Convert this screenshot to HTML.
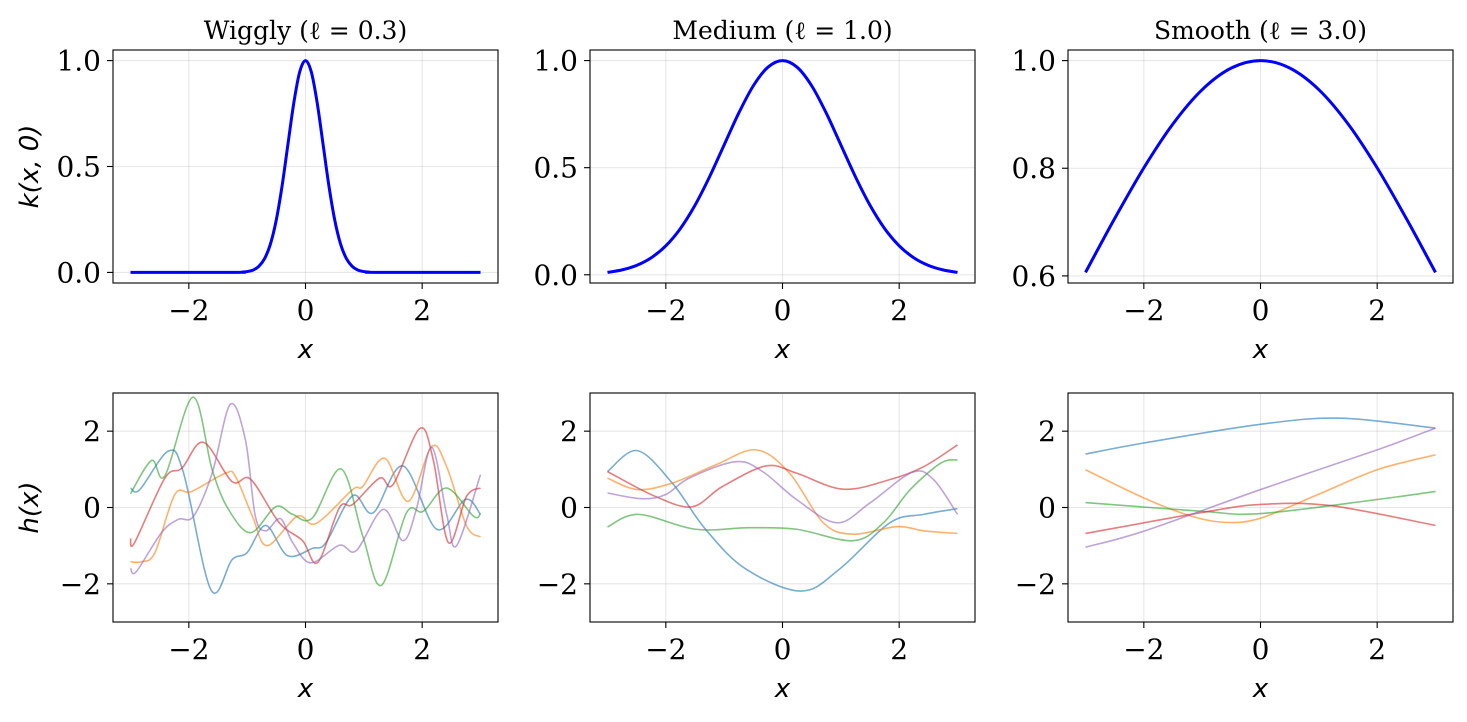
<!DOCTYPE html>
<html><head><meta charset="utf-8"><style>
body{margin:0;background:#fff}
svg text{font-family:"DejaVu Serif","Liberation Serif",serif;fill:#000}
.lab{font-family:"DejaVu Sans","Liberation Sans",sans-serif;font-style:italic}
</style></head><body>
<svg id="fig" width="1467" height="717" xmlns="http://www.w3.org/2000/svg"></svg>
<script>
// ---- data ----
const titles=["Wiggly (ℓ = 0.3)","Medium (ℓ = 1.0)","Smooth (ℓ = 3.0)"];
const kX1=[-3,-1.2,-1.1,-1,-0.9,-0.8,-0.7,-0.6,-0.5,-0.4,-0.3,-0.2,-0.1,0,0.1,0.2,0.3,0.4,0.5,0.6,0.7,0.8,0.9,1,1.1,1.2,3];
const kY1=[0,0.0003,0.0012,0.004,0.011,0.029,0.066,0.135,0.249,0.411,0.607,0.801,0.946,1,0.946,0.801,0.607,0.411,0.249,0.135,0.066,0.029,0.011,0.004,0.0012,0.0003,0];
const kX2=[-3,-2.75,-2.5,-2.25,-2,-1.75,-1.5,-1.25,-1,-0.75,-0.5,-0.25,0,0.25,0.5,0.75,1,1.25,1.5,1.75,2,2.25,2.5,2.75,3];
const kY2=[0.0111,0.0228,0.0439,0.0796,0.1353,0.2163,0.3247,0.4578,0.6065,0.7548,0.8825,0.9692,1,0.9692,0.8825,0.7548,0.6065,0.4578,0.3247,0.2163,0.1353,0.0796,0.0439,0.0228,0.0111];
const kX3=[-3,-2.5,-2,-1.5,-1,-0.5,0,0.5,1,1.5,2,2.5,3];
const kY3=[0.6065,0.7066,0.8007,0.8825,0.946,0.9862,1,0.9862,0.946,0.8825,0.8007,0.7066,0.6065];
const colors=["#1f77b4","#ff7f0e","#2ca02c","#d62728","#9467bd"];
const seriesNames=["blue","orange","green","red","purple"];
const w1X=[-3,-2.84,-2.35,-2.09,-1.62,-1.26,-1.0,-0.68,-0.31,0.12,0.35,0.81,1.16,1.67,2.25,2.74,3];
const w1Y=[0.51,0.47,1.48,0.9,-2.16,-1.37,-1.18,-0.47,-1.26,-1.07,-0.92,0.31,-0.14,1.09,-0.57,0.21,-0.18];
const w2X=[-3,-2.81,-2.58,-2.24,-1.95,-1.37,-1.2,-0.91,-0.66,-0.14,0.18,0.81,0.98,1.36,1.76,2.16,2.42,2.76,3];
const w2Y=[-1.42,-1.42,-1.18,0.34,0.42,0.9,0.81,-0.23,-1.0,-0.23,-0.42,0.47,0.55,1.29,0.16,1.59,1.07,-0.48,-0.77];
const w3X=[-3,-2.64,-2.41,-1.93,-1.6,-1.32,-0.94,-0.51,-0.22,0.12,0.61,0.98,1.3,1.73,2.02,2.42,2.88,3];
const w3Y=[0.36,1.23,0.83,2.89,0.99,-0.05,-0.66,0.02,-0.18,-0.27,1.01,-0.74,-2.04,-0.14,-0.1,0.51,-0.23,-0.16];
const w4X=[-3,-2.93,-2.41,-2.12,-1.75,-1.26,-0.94,-0.45,-0.05,0.21,0.58,0.81,1.27,1.5,1.96,2.19,2.45,2.76,3];
const w4Y=[-0.81,-0.92,0.77,1.03,1.71,0.68,0.74,-0.4,-0.87,-1.44,-0.01,0.08,0.77,0.6,2.07,1.25,-0.92,0.29,0.51];
const w5X=[-3,-2.9,-2.47,-2.18,-1.92,-1.6,-1.29,-1.03,-0.86,-0.68,-0.43,-0.22,0.09,0.58,0.87,1.33,1.67,1.9,2.16,2.42,2.59,3];
const w5Y=[-1.59,-1.68,-0.66,-0.31,-0.23,0.9,2.7,1.77,-0.23,-0.61,-0.29,-0.92,-1.45,-0.99,-1.13,-0.05,-0.87,-0.05,1.58,-0.18,-1.0,0.86];
const m1X=[-3,-2.49,-1.89,-1.32,-0.63,0.32,0.98,1.84,2.42,3];
const m1Y=[0.94,1.49,0.64,-0.57,-1.61,-2.19,-1.61,-0.4,-0.18,-0.03];
const m2X=[-3,-2.49,-1.89,-1.14,-0.45,0.12,0.7,1.21,1.96,2.42,3];
const m2Y=[0.77,0.47,0.64,1.12,1.51,0.9,-0.4,-0.7,-0.5,-0.61,-0.68];
const m3X=[-3,-2.47,-1.49,-0.57,0.24,1.21,1.73,2.19,2.71,3];
const m3Y=[-0.51,-0.18,-0.57,-0.53,-0.57,-0.87,-0.4,0.47,1.16,1.25];
const m4X=[-3,-2.18,-1.55,-1.03,-0.28,0.24,1.04,1.84,2.42,3];
const m4Y=[0.94,0.29,0.02,0.55,1.09,0.9,0.48,0.73,1.07,1.64];
const m5X=[-3,-2.41,-2.0,-1.6,-0.8,-0.34,0.24,0.93,1.5,2.22,2.59,3];
const m5Y=[0.38,0.23,0.34,0.77,1.2,0.94,0.21,-0.4,0.12,0.92,0.73,-0.18];
const s1X=[-3,-2,0,1.38,3]; const s1Y=[1.40,1.69,2.18,2.34,2.08];
const s2X=[-3,-2,-1.2,-0.6,0,1,2,3]; const s2Y=[0.99,0.25,-0.22,-0.39,-0.28,0.35,0.99,1.38];
const s3X=[-3,-1,0,2,3]; const s3Y=[0.13,-0.1,-0.16,0.21,0.42];
const s4X=[-3,-1,0,1.2,3]; const s4Y=[-0.68,-0.13,0.08,0.05,-0.47];
const s5X=[-3,-2,0,2,3]; const s5Y=[-1.04,-0.62,0.47,1.51,2.08];
const xTicks=[-2,0,2]; const xTickLabels=["−2","0","2"];
const yTicksTop=[[0,0.5,1],[0,0.5,1],[0.6,0.8,1.0]];
const yTickLabelsTop=[["0.0","0.5","1.0"],["0.0","0.5","1.0"],["0.6","0.8","1.0"]];
const yTicksBot=[-2,0,2]; const yTickLabelsBot=["−2","0","2"];

const NS="http://www.w3.org/2000/svg";
const fig=document.getElementById('fig');
function mk(tag,attrs,parent){const e=document.createElementNS(NS,tag);for(const k in attrs)e.setAttribute(k,attrs[k]);(parent||fig).appendChild(e);return e;}
function pathD(px){let d="M"+px[0][0].toFixed(2)+","+px[0][1].toFixed(2);
 for(let i=0;i<px.length-1;i++){const p0=px[Math.max(0,i-1)],p1=px[i],p2=px[i+1],p3=px[Math.min(px.length-1,i+2)];
  const c1=[p1[0]+(p2[0]-p0[0])/6,p1[1]+(p2[1]-p0[1])/6],c2=[p2[0]-(p3[0]-p1[0])/6,p2[1]-(p3[1]-p1[1])/6];
  d+=" C"+c1[0].toFixed(2)+","+c1[1].toFixed(2)+" "+c2[0].toFixed(2)+","+c2[1].toFixed(2)+" "+p2[0].toFixed(2)+","+p2[1].toFixed(2);}
 return d;}
const colsX=[113,590,1068], W=385;
const rows=[{top:50,h:233},{top:393,h:229}];
const topY=[[-0.05,1.05],[-0.0384,1.0494],[0.5868,1.0197]];
const topKX=[kX1,kX2,kX3], topKY=[kY1,kY2,kY3];
const botX=[[w1X,w2X,w3X,w4X,w5X],[m1X,m2X,m3X,m4X,m5X],[s1X,s2X,s3X,s4X,s5X]];
const botY=[[w1Y,w2Y,w3Y,w4Y,w5Y],[m1Y,m2Y,m3Y,m4Y,m5Y],[s1Y,s2Y,s3Y,s4Y,s5Y]];
const order=[0,1,2,3,4];
for(let r=0;r<2;r++)for(let c=0;c<3;c++){
 const x0=colsX[c],y0=rows[r].top,h=rows[r].h;
 const ylim=r==0?topY[c]:[-3,3];
 const sx=v=>x0+(v+3.3)/6.6*W, sy=v=>y0+h-(v-ylim[0])/(ylim[1]-ylim[0])*h;
 const g=mk('g',{});
 
 
 const yt=r==0?yTicksTop[c]:yTicksBot, ytl=r==0?yTickLabelsTop[c]:yTickLabelsBot;
 xTicks.forEach((t,i)=>{const X=sx(t);
  mk('line',{x1:X,x2:X,y1:y0,y2:y0+h,stroke:'#b0b0b0','stroke-opacity':0.3,'stroke-width':1.1},g);
  mk('line',{x1:X,x2:X,y1:y0+h,y2:y0+h+6,stroke:'#000','stroke-width':1.1},g);
  const tx=mk('text',{x:X,y:y0+h+37,'text-anchor':'middle','font-size':28},g);tx.textContent=xTickLabels[i];
  
  });
 yt.forEach((t,i)=>{const Y=sy(t);
  mk('line',{x1:x0,x2:x0+W,y1:Y,y2:Y,stroke:'#b0b0b0','stroke-opacity':0.3,'stroke-width':1.1},g);
  mk('line',{x1:x0-6,x2:x0,y1:Y,y2:Y,stroke:'#000','stroke-width':1.1},g);
  const tx=mk('text',{x:x0-12,y:Y+10,'text-anchor':'end','font-size':28},g);tx.textContent=ytl[i];
  
  });
 const clip=mk('clipPath',{id:'cp'+r+c},g);mk('rect',{x:x0,y:y0,width:W,height:h},clip);
 if(r==0){
  const px=topKX[c].map((v,i)=>[sx(v),sy(topKY[c][i])]);
  const p=mk('path',{d:pathD(px),fill:'none',stroke:'#0000ff','stroke-width':3,'clip-path':'url(#cp'+r+c+')'},g);
  
  
 } else {
  order.forEach(s=>{const xs=botX[c][s],ys=botY[c][s];
   const px=xs.map((v,i)=>[sx(v),sy(ys[i])]);
   const p=mk('path',{d:pathD(px),fill:'none',stroke:colors[s],'stroke-opacity':0.6,'stroke-width':1.6,'clip-path':'url(#cp'+r+c+')'},g);
   
   });
 }
 mk('rect',{x:x0,y:y0,width:W,height:h,fill:'none',stroke:'#000','stroke-width':1.1},g);
 const xl=mk('text',{x:x0+W/2,y:y0+h+75,'text-anchor':'middle','font-size':26,class:'lab'},g);xl.textContent='x';
 
 
 if(r==0){const t=mk('text',{x:x0+W/2,y:39,'text-anchor':'middle','font-size':25},g);t.textContent=titles[c];
  
  }
 if(c==0){const cy=y0+h/2;const yl=mk('text',{x:38,y:cy,'text-anchor':'middle','font-size':26,class:'lab',transform:'rotate(-90 38 '+cy+')'},g);
  yl.textContent=r==0?'k(x, 0)':'h(x)';
  
  }
}
</script>
</body></html>
